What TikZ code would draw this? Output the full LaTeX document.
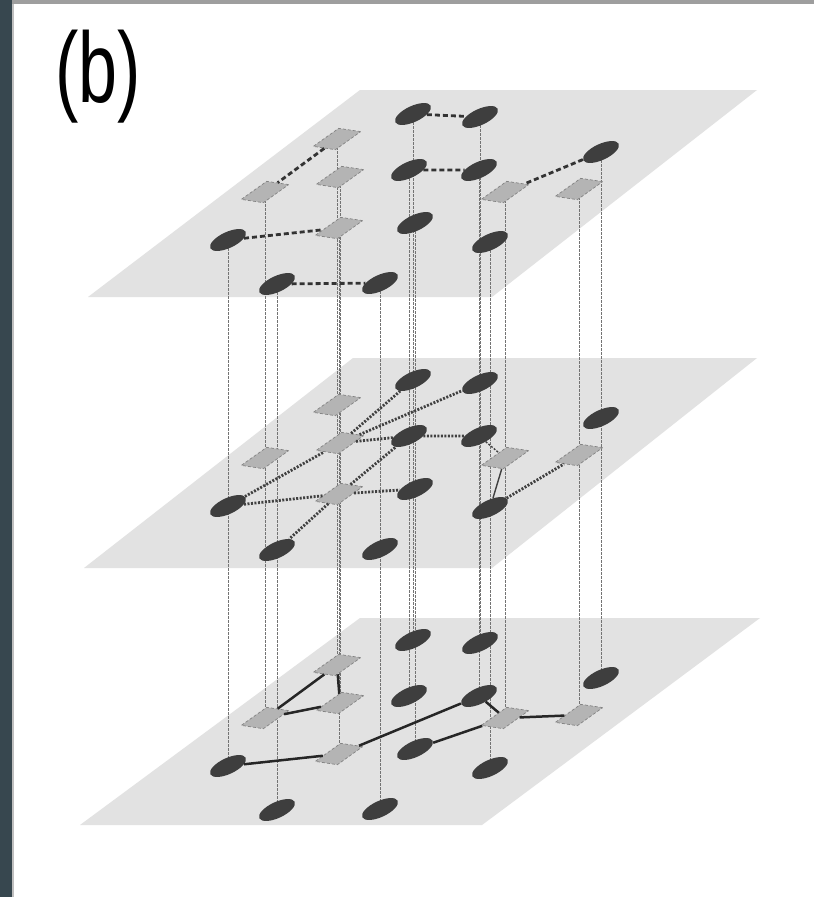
\documentclass[tikz,border=0pt]{standalone}
\usepackage{fontspec}
\setmainfont{Liberation Sans}
\usetikzlibrary{shapes.geometric}
\definecolor{slate}{RGB}{55,71,79}
\definecolor{bandgray}{RGB}{158,158,158}
\definecolor{planegray}{RGB}{226,226,226}
\definecolor{peergray}{RGB}{62,62,62}
\definecolor{hubgray}{RGB}{180,180,180}
\definecolor{hubedge}{RGB}{130,130,130}
\pgfdeclarelayer{planes}
\pgfdeclarelayer{links}
\pgfsetlayers{planes,links,main}
\begin{document}
\begin{tikzpicture}[x=1pt,y=-1pt,
  peer/.style={ellipse, fill=peergray, minimum width=39pt, minimum height=16pt, inner sep=0pt, rotate=25},
  hub/.style={rectangle, fill=hubgray, draw=hubedge, densely dashed, line width=0.7pt, minimum width=22pt, minimum height=22pt, inner sep=0pt, cm={1,-0.15,1.15,0.82,(0,0)}},
  vline/.style={black!55, dash pattern=on 2.5pt off 1.5pt, line width=0.7pt},
  toplink/.style={black!80, dash pattern=on 5pt off 3pt, line width=2.8pt},
  midlink/.style={black!75, dash pattern=on 2pt off 1.5pt, line width=2.8pt},
  botlink/.style={black!85, line width=2.5pt}]
\useasboundingbox (0,0) rectangle (814,897);

\node[font=\fontsize{100}{100}\selectfont, xscale=0.7] (tag) at (98,77) {(b)};

\begin{pgfonlayer}{planes}
\fill[white] (0,0) rectangle (814,897);
\fill[slate] (0,0) rectangle (12,897);
\fill[bandgray] (12,0) rectangle (814,4);
\fill[black!25] (12,4) rectangle (14,897);
\fill[planegray] (88,297) -- (492,297) -- (757,90) -- (360,90) -- cycle;
\fill[planegray] (84,568) -- (492,568) -- (757,358) -- (353,358) -- cycle;
\fill[planegray] (80,825) -- (482,825) -- (760,618) -- (360,618) -- cycle;
\end{pgfonlayer}

\foreach \lay/\dy in {top/0,mid/266,bot/526}{
  \foreach \n/\x/\y in {p1/413/114, p2/480/117, p3/601/152, p4/409/170, p5/479/170,
                        p6/415/223, p7/228/240, p8/490/242, p9/277/284, p10/380/283}
    \node[peer] (\lay-\n) at (\x,\y+\dy) {};
  \foreach \n/\x/\y in {h1/337/139, h2/265/192, h3/340/177, h4/339/228, h5/505/192, h6/579/189}
    \node[hub] (\lay-\n) at (\x,\y+\dy) {};
}

\begin{pgfonlayer}{links}
\foreach \n in {p1,p2,p3,p4,p5,p6,p7,p8,p9,p10,h1,h2,h3,h4,h5,h6}
  \draw[vline] (top-\n.center) -- (bot-\n.center);
\end{pgfonlayer}

\draw[toplink] (top-p1) -- (top-p2);
\draw[toplink] (top-h1) -- (top-h2);
\draw[toplink] (top-p4) -- (top-p5);
\draw[toplink] (top-p3) -- (top-h5);
\draw[toplink] (top-p7) -- (top-h4);
\draw[toplink] (top-p9) -- (top-p10);

\draw[midlink] (mid-h3) -- (mid-p1);
\draw[midlink] (mid-h3) -- (mid-p2);
\draw[midlink] (mid-h3) -- (mid-p4);
\draw[midlink] (mid-p4) -- (mid-p5);
\draw[midlink] (mid-p7) -- (mid-h3);
\draw[midlink] (mid-p7) -- (mid-h4);
\draw[midlink] (mid-h4) -- (mid-p6);
\draw[midlink] (mid-h4) -- (mid-p4);
\draw[midlink] (mid-h4) -- (mid-p9);
\draw[midlink] (mid-p8) -- (mid-h6);
\draw[black!75, dash pattern=on 2pt off 1.5pt, line width=1.4pt] (mid-p5) -- (mid-h5);
\draw[black!75, line width=1.4pt] (mid-h5) -- (mid-p8);

\draw[botlink] (bot-h1) -- (bot-h2);
\draw[botlink] (bot-h1) -- (bot-h3);
\draw[botlink] (bot-h2) -- (bot-h3);
\draw[botlink] (bot-p7) -- (bot-h4);
\draw[botlink] (bot-h4) -- (bot-p5);
\draw[botlink] (bot-p5) -- (bot-h5);
\draw[botlink] (bot-h5) -- (bot-h6);
\draw[botlink] (bot-p6) -- (bot-h5);
\end{tikzpicture}
\end{document}
